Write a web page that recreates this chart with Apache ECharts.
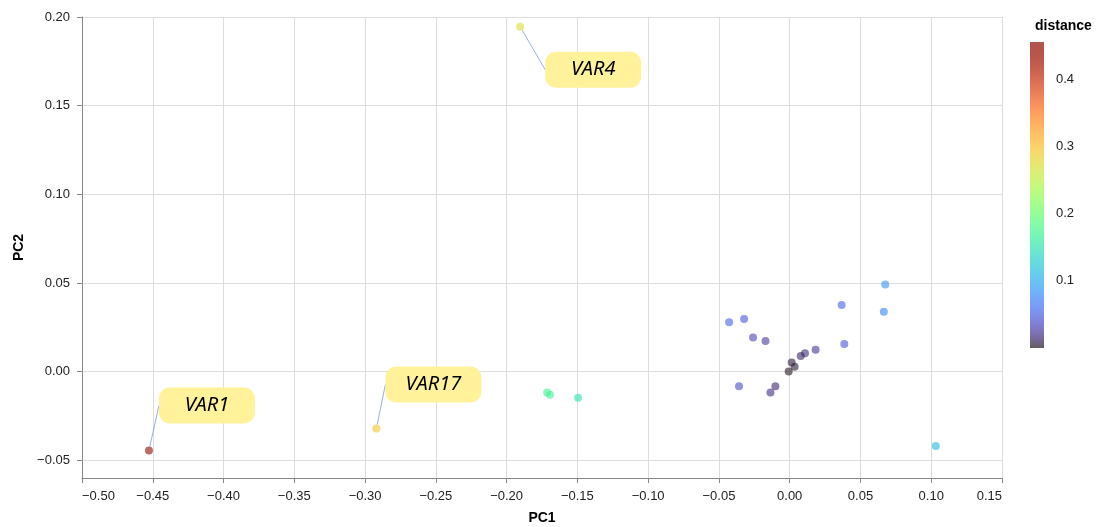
<!DOCTYPE html>
<html>
<head>
<meta charset="utf-8">
<script src="https://cdn.jsdelivr.net/npm/echarts@6/dist/echarts.min.js"></script>
<style>html,body{margin:0;padding:0;background:#fff}#c{width:1105px;height:527px}</style>
</head>
<body>
<div id="c"></div>
<script>
// ---- data ----
const pc1 = [-0.4527, -0.2920, -0.1904, -0.1714, -0.1693, -0.1495,
  -0.0428, -0.0322, -0.0259, -0.0171, 0.0367, 0.0386, 0.0183, 0.0108, 0.0078,
  0.0014, 0.0035, -0.0007, -0.0358, -0.0101, -0.0136, 0.0675, 0.0665, 0.1032];
const pc2 = [-0.0445, -0.0321, 0.1945, -0.0118, -0.0130, -0.0147,
  0.0278, 0.0297, 0.0193, 0.0173, 0.0376, 0.0156, 0.0124, 0.0103, 0.0088,
  0.0052, 0.0028, 0.0000, -0.0083, -0.0083, -0.0118, 0.0492, 0.0337, -0.0419];
const distance = [0.455, 0.294, 0.272, 0.172, 0.170, 0.150,
  0.051, 0.044, 0.032, 0.024, 0.053, 0.042, 0.022, 0.015, 0.012,
  0.005, 0.0045, 0.0007, 0.037, 0.013, 0.018, 0.084, 0.075, 0.111];
const names = ['VAR1', 'VAR17', 'VAR4', '', '', '',
  '', '', '', '', '', '', '', '', '',
  '', '', '', '', '', '', '', '', ''];
const xTicks = [-0.50, -0.45, -0.40, -0.35, -0.30, -0.25, -0.20, -0.15, -0.10, -0.05, 0.00, 0.05, 0.10, 0.15];
const yTicks = [-0.05, 0.00, 0.05, 0.10, 0.15, 0.20];
const legendTicks = [0.1, 0.2, 0.3, 0.4];

// ---- styles ----
const labelOffsets = { VAR1: [58, -45], VAR17: [57, -44], VAR4: [73, 43] };
const distMax = 0.455;

function turbo(t, a) {
  t = Math.max(0, Math.min(1, t));
  const cl = v => Math.round(Math.max(0, Math.min(255, v)));
  const r = 34.61 + t * (1172.33 - t * (10793.56 - t * (33300.12 - t * (38394.49 - t * 14825.05))));
  const g = 23.31 + t * (557.33 + t * (1225.33 - t * (3574.96 - t * (1073.77 + t * 707.56))));
  const b = 27.2 + t * (3211.1 - t * (15327.97 - t * (27814 - t * (22569.18 - t * 6838.66))));
  return a == null ? 'rgb(' + cl(r) + ',' + cl(g) + ',' + cl(b) + ')'
                   : 'rgba(' + cl(r) + ',' + cl(g) + ',' + cl(b) + ',' + a + ')';
}
const N = 32;
const mapColors = [], gradStops = [];
for (let i = 0; i <= N; i++) {
  mapColors.push(turbo(i / N));
  gradStops.push({ offset: i / N, color: turbo(1 - i / N, 0.7) });
}

const fmt = v => {
  const s = Math.abs(v).toFixed(2);
  return (v < -1e-9 ? '\u2212' : '') + s;
};

const FONT = 'Liberation Sans, Arial, sans-serif';
const data = pc1.map((x, i) => {
  const item = { value: [x, pc2[i], distance[i]], name: names[i] };
  if (names[i]) {
    item.label = { show: true };
    item.labelLine = { show: true };
  }
  return item;
});

const chart = echarts.init(document.getElementById('c'), null, { renderer: 'canvas' });
chart.setOption({
  animation: false,
  backgroundColor: '#fff',
  title: {
    text: 'distance', left: 1030, top: 14,
    textStyle: { fontFamily: FONT, fontSize: 14, fontWeight: 'bold', color: '#000' }
  },
  grid: [
    { left: 82, right: 103, top: 17, bottom: 49, containLabel: false, outerBoundsMode: 'none' },
    { left: 1030, width: 14, top: 42, height: 306, show: true, borderWidth: 0,
      containLabel: false, outerBoundsMode: 'none',
      backgroundColor: { type: 'linear', x: 0, y: 0, x2: 0, y2: 1, colorStops: gradStops } }
  ],
  xAxis: [
    { type: 'value', gridIndex: 0, min: -0.5, max: 0.15, interval: 0.05,
      name: 'PC1', nameLocation: 'middle', nameGap: 33,
      nameTextStyle: { fontFamily: FONT, fontSize: 14, fontWeight: 'bold', color: '#000' },
      axisLine: { show: true, onZero: false, lineStyle: { color: '#888' } },
      axisTick: { show: true, length: 5, lineStyle: { color: '#888' } },
      axisLabel: { fontFamily: FONT, fontSize: 13, color: '#222', margin: 12,
        formatter: fmt, alignMinLabel: 'left', alignMaxLabel: 'right' },
      splitLine: { show: true, lineStyle: { color: '#ddd' } } },
    { type: 'value', gridIndex: 1, show: false, min: 0, max: 1 }
  ],
  yAxis: [
    { type: 'value', gridIndex: 0, min: -0.06, max: 0.2, interval: 0.05,
      name: 'PC2', nameLocation: 'middle', nameGap: 56,
      nameTextStyle: { fontFamily: FONT, fontSize: 14, fontWeight: 'bold', color: '#000' },
      axisLine: { show: true, onZero: false, lineStyle: { color: '#888' } },
      axisTick: { show: true, length: 5, lineStyle: { color: '#888' }, customValues: yTicks },
      axisLabel: { fontFamily: FONT, fontSize: 13, color: '#222', margin: 12,
        formatter: fmt, customValues: yTicks },
      splitLine: { show: true, lineStyle: { color: '#ddd' } } },
    { type: 'value', gridIndex: 1, position: 'right', min: 0, max: distMax,
      axisLine: { show: false }, axisTick: { show: false, customValues: legendTicks },
      splitLine: { show: false },
      axisLabel: { fontFamily: FONT, fontSize: 13, color: '#222', margin: 12,
        customValues: legendTicks, formatter: v => v.toFixed(1) } }
  ],
  visualMap: {
    type: 'continuous', show: false, min: 0, max: distMax, dimension: 2, seriesIndex: 0,
    inRange: { color: mapColors, colorAlpha: 0.75 }
  },
  series: [{
    type: 'scatter', xAxisIndex: 0, yAxisIndex: 0,
    symbolSize: 8,
    data: data,
    label: {
      show: false, position: 'inside', formatter: p => p.name,
      fontFamily: 'Noto Sans, Open Sans, sans-serif', fontStyle: 'italic', fontSize: 20,
      color: '#000', opacity: 1, backgroundColor: '#fff29b', borderRadius: 11,
      width: 96, height: 36, lineHeight: 36, align: 'center', verticalAlign: 'middle', padding: 0
    },
    labelLine: { show: false, lineStyle: { color: '#7d9be0', width: 0.8, opacity: 1 } },
    labelLayout: p => {
      const n = names[p.dataIndex];
      if (!n) return {};
      const o = labelOffsets[n];
      return { dx: o[0], dy: o[1] };
    },
    emphasis: { disabled: true }
  }]
});
</script>
</body>
</html>
